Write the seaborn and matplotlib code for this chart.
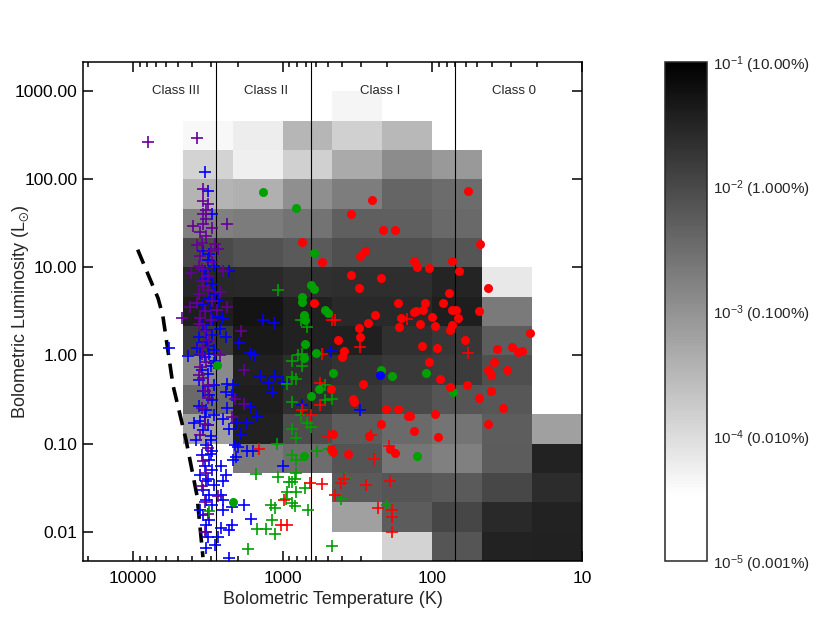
import numpy as np
import pandas as pd
import matplotlib
matplotlib.use('Agg')
import matplotlib.pyplot as plt
import seaborn as sns
from matplotlib.colors import LogNorm, LinearSegmentedColormap
from matplotlib.ticker import NullLocator, FixedLocator, FixedFormatter

# log10 fraction of model sources per 1/3-dex bin (rows: high L -> low L, cols: high T -> low T)
log_frac = [
    [np.nan, np.nan, np.nan, -4.33, np.nan, np.nan, np.nan, np.nan],
    [-4.39, -4.22, -3.48, -3.84, -3.51, np.nan, np.nan, np.nan],
    [-3.89, -4.26, -3.84, -3.32, -2.91, -3.09, np.nan, np.nan],
    [-3.46, -3.40, -2.94, -2.71, -2.39, -2.47, np.nan, np.nan],
    [-2.75, -2.69, -2.57, -2.31, -2.30, -2.43, np.nan, np.nan],
    [-2.01, -2.12, -2.23, -2.09, -2.09, -2.16, np.nan, np.nan],
    [-1.55, -1.57, -1.66, -1.63, -1.63, -1.49, -4.17, np.nan],
    [-1.41, -1.27, -1.46, -1.57, -1.57, -1.41, -2.67, np.nan],
    [-1.79, -1.35, -1.46, -1.44, -1.66, -1.76, -2.28, np.nan],
    [-2.88, -1.46, -1.63, -1.70, -1.79, -1.82, -2.09, np.nan],
    [-2.45, -1.41, -1.66, -1.79, -2.01, -2.16, -2.19, np.nan],
    [-3.16, -1.46, -2.05, -2.26, -2.45, -2.58, -2.28, -3.18],
    [np.nan, -2.67, -2.50, -2.15, -2.62, -2.75, -2.26, -1.48],
    [np.nan, np.nan, np.nan, -2.23, -2.16, -2.23, -1.98, -1.60],
    [np.nan, np.nan, np.nan, -3.18, -2.26, -1.96, -1.57, -1.48],
    [np.nan, np.nan, np.nan, np.nan, -3.89, -2.16, -1.48, -1.46],
]
logt_edges = np.linspace(1.0, 11 / 3, 9)
logl_edges = np.linspace(-7 / 3, 3.0, 17)

# observed sources: (log Tbol, log Lbol)
purple_cross = [
    (3.90, 2.42), (3.57, 2.47), (3.53, 1.89), (3.50, 1.72), (3.53, 1.61), (3.51, 1.55), (3.37, 1.49),
    (3.60, 1.47), (3.53, 1.49), (3.47, 1.45), (3.57, 1.25), (3.54, 1.28), (3.45, 1.27), (3.43, 1.21),
    (3.55, 1.13), (3.47, 1.06), (3.61, 0.94), (3.54, 0.98), (3.40, 0.96), (3.53, 0.79), (3.50, 0.74),
    (3.42, 0.72), (3.57, 0.60), (3.62, 0.55), (3.67, 0.43), (3.37, 0.55), (3.44, 0.51), (3.28, 0.28),
    (3.55, 0.43), (3.52, 0.28), (3.53, 0.09), (3.42, 0.00), (3.55, -0.13), (3.26, -0.17), (3.53, -0.26),
    (3.50, -0.34), (3.32, -0.49), (3.26, -0.55), (3.34, -0.70), (3.43, -1.60), (3.52, -2.00),
    (3.55, 1.40), (3.51, 1.35), (3.48, 1.18), (3.56, 1.02), (3.50, 0.90), (3.54, 0.85), (3.47, 0.62),
    (3.52, 0.50), (3.56, 0.36), (3.49, 0.18), (3.54, 0.02), (3.51, -0.08), (3.56, -0.22), (3.50, -0.48),
    (3.54, -0.60), (3.52, -0.78), (3.55, -0.90), (3.50, -1.05), (3.53, -1.20), (3.51, -1.33),
    (3.54, -1.48), (3.52, -1.66), (3.50, -1.80), (3.53, 1.75), (3.51, 1.65), (3.56, 0.70), (3.48, 0.40),
    (3.52, -0.40),
]
blue_cross = [
    (3.13, 0.40), (3.06, 0.37), (3.22, 0.03), (3.19, 0.00), (2.68, 0.05), (3.15, -0.23), (3.05, -0.23),
    (3.10, -0.31), (3.00, -0.30), (3.07, -0.42), (3.22, -0.59), (3.17, -0.69), (3.24, -0.77), (2.87, -0.56),
    (2.48, -0.62), (3.24, -1.08), (3.20, -1.09), (3.00, -1.25), (3.21, -1.86), (3.36, 0.96), (3.29, 0.14),
    (3.37, -0.32), (3.33, -0.34), (3.40, 0.43), (3.42, 0.30), (3.38, 0.21), (3.43, 0.62), (3.56, 0.21),
    (3.57, 0.08), (3.63, -0.01), (3.76, 0.08), (3.40, -0.72), (3.36, -0.83), (3.31, -0.77), (3.28, -0.89),
    (3.32, -1.02), (3.30, -1.04), (3.31, -1.15), (3.33, -1.19), (3.37, -0.60), (3.38, -0.42), (3.34, -0.45),
    (3.41, -1.25), (3.38, -1.36), (3.40, -1.42), (3.41, -1.59), (3.40, -1.64), (3.34, -1.72), (3.26, -1.70),
    (3.40, -1.76), (3.34, -1.93), (3.41, -1.96), (3.36, -1.98), (3.43, -2.06), (3.45, -2.15), (3.51, -2.19),
    (3.36, -2.30), (3.51, -1.93), (3.51, -2.00), (3.50, -2.06), (3.59, -0.77), (3.58, -0.96), (3.52, 2.08),
    (3.50, 1.87), (3.47, 1.60), (3.49, 1.15), (3.46, 1.02), (3.51, 0.87), (3.47, 0.81), (3.46, 0.70),
    (3.47, 0.40), (3.51, 0.15), (3.49, 0.02), (3.46, -0.09), (3.50, -0.21),
    (3.53, -0.40), (3.49, -0.45), (3.47, -0.51), (3.56, -0.57), (3.51, -0.62), (3.46, -0.68), (3.55, -0.74),
    (3.50, -0.79), (3.53, -0.85), (3.48, -0.91), (3.51, -1.02), (3.47, -1.08), (3.54, -1.13), (3.49, -1.19),
    (3.52, -1.25), (3.47, -1.30), (3.55, -1.36), (3.51, -1.42), (3.46, -1.47), (3.53, -1.53), (3.49, -1.59),
    (3.51, -1.64), (3.47, -1.70), (3.55, -1.76), (3.53, -1.81), (3.49, -1.87), (3.56, -0.28), (3.46, -0.34),
    (3.54, -0.17), (3.45, -0.06), (3.55, 0.01), (3.50, 0.11), (3.47, 0.23), (3.53, 0.34), (3.44, 0.45),
    (3.54, 0.57), (3.49, 0.65), (3.52, 0.96), (3.50, 1.08), (3.53, 1.19), (3.48, -0.12), (3.52, -0.02),
    (3.46, 0.06), (3.51, 0.29), (3.48, 0.52), (3.50, -0.35), (3.52, -0.70), (3.48, -0.96), (3.50, -1.40),
    (3.48, -1.12),
]
green_cross = [
    (3.03, 0.74), (2.88, 0.40), (2.84, 0.32), (2.94, -0.06), (2.90, 0.01), (2.87, 0.02), (2.87, -0.12),
    (2.94, -0.25), (2.91, -0.27), (2.97, -0.32), (2.72, -0.34), (2.94, -0.53), (2.88, -0.68), (2.84, -0.77),
    (2.81, -0.81), (2.94, -0.83), (2.91, -0.94), (3.04, -1.01), (2.72, -0.51), (2.67, -0.50), (2.69, -1.06),
    (2.77, -1.09), (2.94, -1.13), (2.91, -1.19), (3.18, -1.35), (3.03, -1.38), (2.91, -1.33), (2.92, -1.40),
    (2.94, -1.44), (2.96, -1.44), (2.85, -1.50), (2.97, -1.55), (2.91, -1.55), (2.98, -1.63), (2.94, -1.67),
    (2.92, -1.71), (3.08, -1.70), (3.05, -1.73), (2.83, -1.76), (2.61, -1.63), (3.07, -1.87), (3.17, -1.97),
    (3.11, -1.97), (3.05, -2.03), (2.67, -2.16), (3.23, -2.20), (2.30, -1.70), (2.58, -1.39), (3.49, -1.77),
]
red_cross = [
    (2.67, 0.40), (2.65, 0.40), (2.17, 0.41), (2.48, 0.10), (2.74, 0.02), (2.75, -0.31), (1.76, 0.03),
    (3.16, -1.06), (2.87, -0.62), (2.81, -0.68), (2.75, -0.56), (2.70, -0.92), (2.41, -0.90), (2.29, -1.03),
    (2.39, -1.18), (2.59, -1.40), (2.61, -1.45), (2.44, -1.47), (2.28, -1.42), (2.82, -1.45), (2.74, -1.46),
    (2.65, -1.59), (2.99, -1.64), (2.36, -1.73), (2.27, -1.76), (2.27, -1.83), (2.27, -2.00), (3.01, -1.92),
    (2.97, -1.92),
]
green_dot = [
    (3.13, 1.85), (2.91, 1.67), (2.79, 1.16), (2.81, 0.80), (2.79, 0.75), (2.87, 0.66), (2.87, 0.61),
    (2.72, 0.52), (2.70, 0.48), (2.86, 0.46), (2.85, 0.40), (2.85, 0.13), (2.78, 0.03), (2.66, -0.20),
    (2.34, -0.16), (2.27, -0.23), (2.86, -0.03), (2.04, -0.20), (1.86, -0.41), (2.10, -1.14), (2.81, -0.46),
    (2.76, -0.38), (2.86, -1.14), (3.33, -1.66), (3.44, -0.11),
]
red_dot = [
    (2.40, 1.76), (2.54, 1.60), (1.76, 1.87), (2.33, 1.42), (2.25, 1.42), (2.87, 1.29), (2.74, 1.06),
    (2.48, 1.13), (2.45, 1.18), (2.54, 0.91), (2.34, 0.88), (2.49, 0.77), (2.79, 0.59), (2.23, 0.60),
    (2.38, 0.46), (2.21, 0.43), (2.43, 0.37), (2.49, 0.31), (2.22, 0.32), (2.63, 0.18), (2.48, 0.21),
    (2.59, 0.05), (2.60, -0.02), (2.46, -0.32), (2.12, 1.07), (2.12, 0.49),
    (1.68, 1.26), (2.10, 1.00), (2.02, 0.99), (1.87, 1.07), (1.82, 0.96), (1.63, 0.76), (1.89, 0.71),
    (2.05, 0.60), (1.93, 0.60), (2.11, 0.50), (2.06, 0.51), (1.87, 0.51), (1.84, 0.51), (1.69, 0.50),
    (2.00, 0.44), (1.83, 0.42), (2.08, 0.36), (1.98, 0.33), (1.87, 0.35), (1.88, 0.29), (1.35, 0.26),
    (1.78, 0.17), (2.07, 0.11), (1.97, 0.08), (1.57, 0.07), (1.47, 0.09), (1.43, 0.04), (1.40, 0.05),
    (2.02, -0.08), (1.59, -0.07), (1.50, -0.16), (1.63, -0.17), (1.61, -0.22), (1.95, -0.27), (1.88, -0.36),
    (1.77, -0.34), (1.61, -0.40), (1.69, -0.48), (1.53, -0.60), (2.15, -0.69), (1.98, -0.67), (1.63, -0.78),
    (2.12, -0.86), (1.96, -0.93), (2.68, -0.38), (2.53, -0.49), (2.52, -0.53), (2.31, -0.61), (2.23, -0.61),
    (2.16, -0.69), (2.34, -0.78), (2.66, -0.89), (2.42, -0.92), (2.68, -1.06), (2.66, -1.10), (2.56, -1.12),
    (2.28, -1.06), (2.25, -1.11),
]
blue_dot = [(2.35, -0.22)]

# birthline-like boundary (log T, log L)
bound_logt = [3.968, 3.832, 3.80, 3.732, 3.645, 3.572, 3.532]
bound_logl = [1.20, 0.65, 0.45, -0.34, -0.96, -1.59, -2.29]

class_edges = [2800, 650, 70]
class_names = ['Class III', 'Class II', 'Class I', 'Class 0']
class_label_t = [5150, 1290, 223, 28.4]

sns.set_style('ticks')
plt.rcParams['font.family'] = ['Liberation Sans', 'DejaVu Sans']
plt.rcParams['mathtext.fontset'] = 'custom'
plt.rcParams['mathtext.rm'] = 'Liberation Sans'
plt.rcParams['mathtext.it'] = 'Liberation Sans:italic'
plt.rcParams['mathtext.default'] = 'regular'

fig = plt.figure(figsize=(8.3, 6.24), dpi=100)
ax = fig.add_axes([0.1, 0.101, 0.6012, 0.800])
cax = fig.add_axes([0.8012, 0.101, 0.0506, 0.800])

cmap = LinearSegmentedColormap.from_list('grey_r', [(0, 'white'), (0.13, 'white'), (1, 'black')])
cmap.set_bad((1, 1, 1, 0))
dens = 10 ** np.array(log_frac)[::-1, ::-1]
mesh = ax.pcolormesh(10 ** logt_edges, 10 ** logl_edges, np.ma.masked_invalid(dens),
                     cmap=cmap, norm=LogNorm(1e-5, 1e-1), shading='flat',
                     edgecolors='none', antialiased=False, zorder=1)

for t in class_edges:
    ax.axvline(t, color='black', lw=0.8, zorder=2)
for name, t in zip(class_names, class_label_t):
    ax.text(t, 1000, name, ha='center', va='center', fontsize=9.5, zorder=2)

ax.plot(10 ** np.array(bound_logt), 10 ** np.array(bound_logl), color='black', lw=2.6,
        linestyle=(0, (4.2, 2.4)), zorder=3, solid_capstyle='butt')

groups = [
    (blue_cross, '+', '#0000ff'),
    (purple_cross, '+', '#660099'),
    (green_cross, '+', '#00a000'),
    (red_cross, '+', '#ff0000'),
    (green_dot, 'o', '#00a000'),
    (red_dot, 'o', '#ff0000'),
    (blue_dot, 'o', '#0000ff'),
]
for pts, mk, col in groups:
    df = pd.DataFrame(pts, columns=['logt', 'logl'])
    df['tbol'] = 10 ** df['logt']
    df['lbol'] = 10 ** df['logl']
    if mk == '+':
        sns.scatterplot(data=df, x='tbol', y='lbol', marker='+', s=70, color=col,
                        linewidth=1.2, ax=ax, legend=False, zorder=4)
    else:
        sns.scatterplot(data=df, x='tbol', y='lbol', marker='o', s=42, color=col,
                        linewidth=0, ax=ax, legend=False, zorder=5)

ax.set_xscale('log')
ax.set_yscale('log')
ax.set_xlim(10 ** (13 / 3), 10)
ax.set_ylim(10 ** (-7 / 3), 10 ** (10 / 3))

ax.xaxis.set_major_locator(FixedLocator([10000, 1000, 100, 10]))
ax.xaxis.set_major_formatter(FixedFormatter(['10000', '1000', '100', '10']))
ax.yaxis.set_major_locator(FixedLocator([1000, 100, 10, 1, 0.1, 0.01]))
ax.yaxis.set_major_formatter(FixedFormatter(['1000.00', '100.00', '10.00', '1.00', '0.10', '0.01']))
ax.yaxis.set_minor_locator(NullLocator())

ax.tick_params(which='both', direction='in', top=True, right=True, width=1.1, colors='black')
ax.tick_params(which='major', length=7, labelsize=12.5)
ax.tick_params(axis='x', which='major', pad=7)
ax.tick_params(axis='y', which='major', pad=4)
ax.tick_params(which='minor', length=3.5)
for sp in ax.spines.values():
    sp.set_linewidth(1.1)
    sp.set_color('black')

ax.set_xlabel('Bolometric Temperature (K)', fontsize=13, labelpad=4)
ax.set_ylabel(r'Bolometric Luminosity (L$_{\odot}$)', fontsize=13)
ax.yaxis.set_label_coords(-0.105, 0.5)
ax.set_facecolor('white')

cb = fig.colorbar(mesh, cax=cax)
cb.set_ticks([1e-5, 1e-4, 1e-3, 1e-2, 1e-1])
cb.set_ticklabels([r'10$^{-5}$ (0.001%)', r'10$^{-4}$ (0.010%)', r'10$^{-3}$ (0.100%)',
                   r'10$^{-2}$ (1.000%)', r'10$^{-1}$ (10.00%)'])
cax.yaxis.set_minor_locator(NullLocator())
cax.tick_params(length=0, pad=4, labelsize=11)
cb.outline.set_linewidth(1.1)

fig.savefig('out.png', dpi=100)
